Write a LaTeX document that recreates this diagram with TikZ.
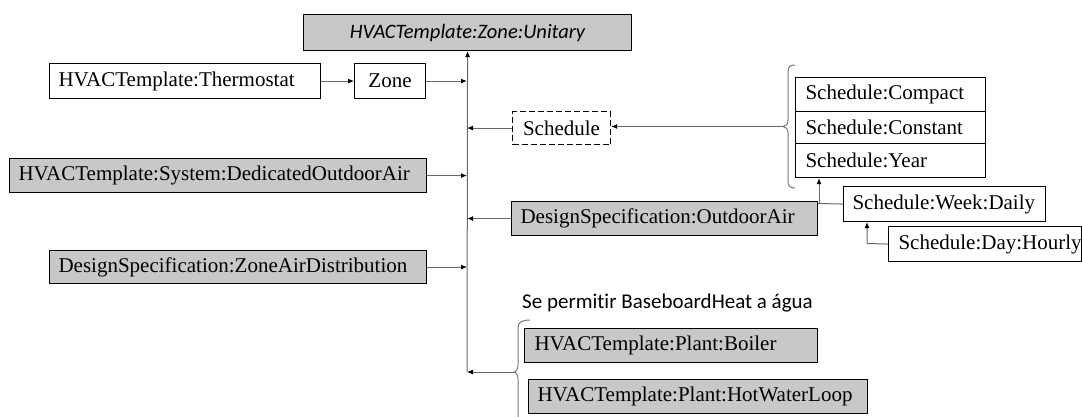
\documentclass[tikz,border=0pt]{standalone}
\usepackage{fontspec}
\setmainfont{Liberation Serif}
\newfontfamily\calibrifont[Ligatures=NoCommon]{Carlito}
\usetikzlibrary{arrows.meta}
\definecolor{boxgray}{RGB}{200,200,200}
\definecolor{wire}{RGB}{105,105,105}
\definecolor{bracegray}{RGB}{120,120,120}

\begin{document}
\begin{tikzpicture}[x=1pt,y=-1pt,
  txt/.style={font=\fontsize{21}{25}\selectfont},
  box/.style={txt, draw=black, line width=1.1pt, inner xsep=9pt, inner ysep=0pt,
              align=left, anchor=north west},
  cbox/.style={txt, draw=black, line width=1.1pt, inner sep=0pt, align=center,
               anchor=north west},
  shaded/.style={fill=boxgray},
  link/.style={draw=wire, line width=1pt, -{Latex[length=6pt,width=5pt,black]}},
  plain/.style={draw=wire, line width=1pt},
  curly/.style={draw=bracegray, line width=1pt}
]
\useasboundingbox (0,0) rectangle (1082,416);

% main template and the trunk line feeding it
\node[cbox, shaded, minimum width=328pt, minimum height=36pt,
      font=\calibrifont\itshape\fontsize{20.5}{24}\selectfont] (unit) at (303,14)
      {HVACTemplate:Zone:Unitary};
\coordinate (tbot) at (467,372);

% left-hand inputs
\node[box, text width=253pt, minimum height=35pt] (thermo) at (49,63) {\mbox{HVACTemplate:Thermostat}};
\node[cbox, minimum width=71pt, minimum height=35pt] (zone) at (354,63) {Zone};
\node[box, shaded, text width=399pt, minimum height=34pt] (dedoa) at (9,158) {\mbox{HVACTemplate:System:DedicatedOutdoorAir}};
\node[box, shaded, text width=359pt, minimum height=33pt] (zad) at (49,250) {\mbox{DesignSpecification:ZoneAirDistribution}};

% schedules
\node[cbox, dash pattern=on 6pt off 3pt, minimum width=98pt, minimum height=33pt] (sched) at (512,111) {Schedule};
\node[box, inner xsep=10pt, text width=170pt, minimum height=34pt] (compact) at (795,77) {\mbox{Schedule:Compact}};
\node[box, inner xsep=10pt, text width=170pt, minimum height=32pt] (constant) at (795,111) {\mbox{Schedule:Constant}};
\node[box, inner xsep=10pt, text width=170pt, minimum height=34pt] (year) at (795,143) {\mbox{Schedule:Year}};
\node[box, shaded, inner xsep=9pt, text width=288pt, minimum height=34pt] (dsoa) at (511,201) {\mbox{DesignSpecification:OutdoorAir}};
\node[box, inner xsep=9pt, text width=184pt, minimum height=35pt] (week) at (843,186) {\mbox{Schedule:Week:Daily}};
\node[box, inner xsep=10pt, text width=173pt, minimum height=35pt] (day) at (888,226) {\mbox{Schedule:Day:Hourly}};

% optional hot-water plant
\node[txt, font=\calibrifont\fontsize{21}{25}\selectfont, anchor=west, inner sep=0pt] (note) at (522,303)
      {Se permitir BaseboardHeat a água};
\node[box, shaded, inner xsep=10pt, text width=273pt, minimum height=34pt] (boiler) at (524,328) {\mbox{HVACTemplate:Plant:Boiler}};
\node[box, shaded, inner xsep=9pt, text width=321pt, minimum height=34pt] (hwl) at (528,379) {\mbox{HVACTemplate:Plant:HotWaterLoop}};

% braces grouping the alternatives
\coordinate (b1tip) at (783,126.5);
\draw[curly] (795,65) .. controls (790,65) and (788,67) .. (788,72) -- (788,120)
  .. controls (788,124) and (786,126.5) .. (b1tip)
  .. controls (786,126.5) and (788,129) .. (788,133) -- (788,181)
  .. controls (788,186) and (790,188) .. (795,188);
\coordinate (b2tip) at (514,372);
\draw[curly] (530,320) .. controls (522,320) and (518,322) .. (518,328) -- (518,365)
  .. controls (518,369) and (516,372) .. (b2tip)
  .. controls (516,372) and (518,375) .. (518,379) -- (518,430);

% connectors
\draw[link] (tbot) -- (unit.south);
\draw[link] (thermo.east) -- (zone.west);
\draw[link] (zone.east) -- (zone.east -| tbot);
\draw[link] (sched.west) -- (sched.west -| tbot);
\draw[link] (b1tip) -- (b1tip -| sched.east);
\draw[link] (dedoa.east) -- (dedoa.east -| tbot);
\draw[link] (dsoa.west) -- (dsoa.west -| tbot);
\draw[link] (zad.east) -- (zad.east -| tbot);
\draw[link] (b2tip) -- (tbot);

\coordinate (j) at (819,203.5);
\draw[plain] (j -| dsoa.east) -- (week.west);
\draw[link] (j) -- (j |- year.south);
\coordinate (k) at (867,243.5);
\draw[link] (day.west) -- (k) -- (k |- week.south);
\end{tikzpicture}
\end{document}
